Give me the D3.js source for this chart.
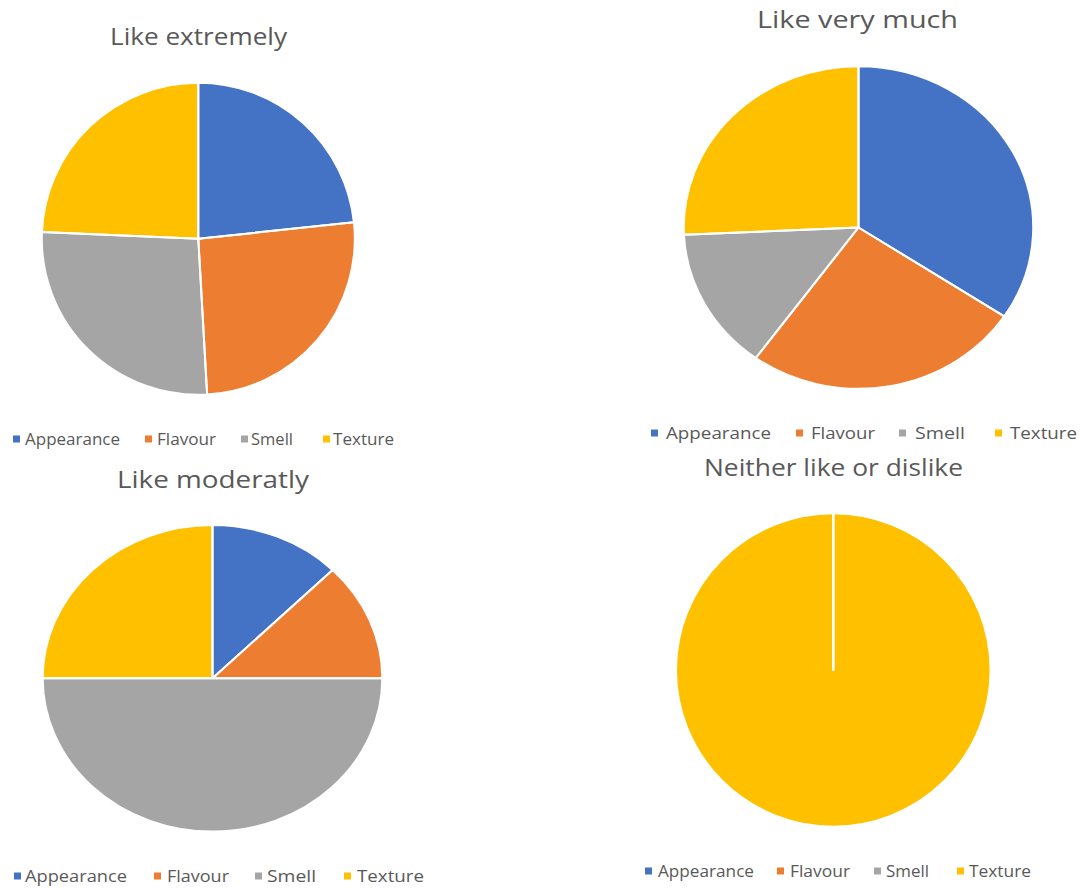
<!DOCTYPE html>
<html>
<head>
<meta charset="utf-8">
<script src="https://cdn.jsdelivr.net/npm/d3@7/dist/d3.min.js"></script>
<style>
  html, body { margin: 0; padding: 0; background: #ffffff; }
  svg { display: block; }
  text { font-family: "Open Sans", "Liberation Sans", sans-serif; fill: #595959; }
</style>
</head>
<body>
<svg id="chart" width="1084" height="888"></svg>
<script>
// ---- data ----
const categories = ["Appearance", "Flavour", "Smell", "Texture"];
const titles = ["Like extremely", "Like very much", "Like moderatly", "Neither like or dislike"];
const likeExtremely = [23.3, 25.8, 26.6, 24.3];
const likeVeryMuch = [12, 9, 5, 9];
const likeModerately = [1, 1, 4, 2];
const neitherLikeOrDislike = [0, 0, 0, 1];
const colors = ["#4472C4", "#ED7D31", "#A5A5A5", "#FFC000"];

const seriesList = [likeExtremely, likeVeryMuch, likeModerately, neitherLikeOrDislike];

// ---- layout ----
const panels = [
  { title: { x: 198.5, y: 45, w: 177 }, pie: { cx: 198.3, cy: 238.8, rx: 156.5, ry: 156 },
    legend: { y: 439, sq: [13, 145, 241, 323], tx: [25, 157, 251, 333], tw: [95, 59, 42, 61] } },
  { title: { x: 857.5, y: 28, w: 201 }, pie: { cx: 858.5, cy: 227.5, rx: 174.7, ry: 161.3 },
    legend: { y: 433, sq: [651, 796, 899, 995], tx: [666, 811, 915, 1010], tw: [105, 64, 50, 67] } },
  { title: { x: 213, y: 488, w: 192 }, pie: { cx: 212.5, cy: 678.3, rx: 169.8, ry: 153.3 },
    legend: { y: 876, sq: [14, 154, 255, 344], tx: [25, 167, 267, 357], tw: [102, 62, 49, 67] } },
  { title: { x: 833.5, y: 476, w: 259 }, pie: { cx: 833.3, cy: 670, rx: 157.3, ry: 156.7 },
    legend: { y: 871, sq: [645, 777, 874, 957], tx: [658, 790, 886, 969], tw: [96, 60, 43, 62] } }
];

const svg = d3.select("#chart");
const color = d3.scaleOrdinal().domain(categories).range(colors);
const pie = d3.pie().sort(null).value(d => d.value);

panels.forEach((p, i) => {
  const values = seriesList[i];
  const data = categories.map((c, k) => ({ category: c, value: values[k] }));
  const arcs = pie(data);
  const arc = d3.arc().innerRadius(0).outerRadius(p.pie.ry);

  const g = svg.append("g")
    .attr("transform", `translate(${p.pie.cx},${p.pie.cy}) scale(${p.pie.rx / p.pie.ry},1)`);

  // fills
  g.selectAll("path.fill").data(arcs).join("path")
    .attr("class", "fill")
    .attr("d", arc)
    .attr("fill", d => color(d.data.category));

  // borders drawn on top
  g.selectAll("path.border").data(arcs).join("path")
    .attr("class", "border")
    .attr("d", arc)
    .attr("fill", "none")
    .attr("stroke", "#ffffff")
    .attr("stroke-width", 2)
    .attr("stroke-linejoin", "round")
    .attr("vector-effect", "non-scaling-stroke");

  // title
  svg.append("text")
    .attr("x", p.title.x)
    .attr("y", p.title.y)
    .attr("text-anchor", "middle")
    .attr("font-size", 24)
    .attr("textLength", p.title.w)
    .attr("lengthAdjust", "spacingAndGlyphs")
    .text(titles[i]);

  // legend
  const lg = svg.append("g");
  categories.forEach((c, k) => {
    lg.append("rect")
      .attr("x", p.legend.sq[k])
      .attr("y", p.legend.y - 3.5)
      .attr("width", 7)
      .attr("height", 7)
      .attr("fill", color(c));
    lg.append("text")
      .attr("x", p.legend.tx[k])
      .attr("y", p.legend.y + 6)
      .attr("font-size", 16.5)
      .attr("textLength", p.legend.tw[k])
      .attr("lengthAdjust", "spacingAndGlyphs")
      .text(c);
  });
});
</script>
</body>
</html>
